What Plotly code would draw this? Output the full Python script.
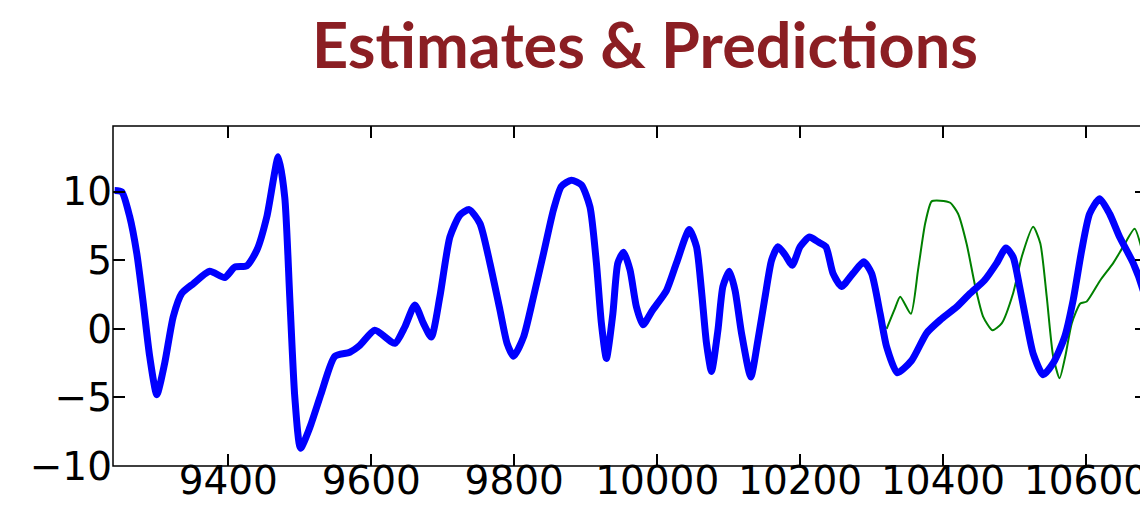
import plotly.graph_objects as go

# Blue series: estimates
est_x = [9241, 9251, 9262, 9272, 9281, 9290, 9300, 9311, 9323, 9335, 9351, 9374,
         9395, 9409, 9426, 9440, 9454, 9470, 9479, 9486, 9493, 9501, 9514, 9530,
         9549, 9570, 9584, 9605, 9633, 9647, 9661, 9673, 9684, 9696, 9710, 9724,
         9737, 9752, 9766, 9780, 9790, 9799, 9813, 9827, 9841, 9855, 9866, 9880,
         9894, 9906, 9915, 9922, 9929, 9938, 9945, 9953, 9962, 9971, 9980, 9994,
         10013, 10027, 10045, 10055, 10062, 10069, 10076, 10085, 10092, 10101,
         10109, 10118, 10131, 10141, 10151, 10160, 10169, 10179, 10189, 10200,
         10213, 10225, 10236, 10246, 10258, 10274, 10289, 10300, 10312, 10321,
         10336, 10356, 10377, 10396, 10419, 10438, 10458, 10475, 10488, 10498,
         10507, 10517, 10526, 10540, 10554, 10570, 10582, 10594, 10605, 10619,
         10633, 10647, 10666, 10680, 10687, 10695]
est_y = [10.1, 10.0, 8.2, 5.5, 1.9, -2.0, -4.8, -2.5, 0.9, 2.6, 3.3, 4.2,
         3.75, 4.5, 4.6, 5.75, 8.2, 12.55, 9.6, 2.3, -4.95, -8.7, -7.2, -4.7,
         -2.0, -1.7, -1.2, -0.1, -1.05, 0.15, 1.75, 0.4, -0.6, 2.35, 6.7, 8.3,
         8.7, 7.7, 4.8, 1.4, -1.05, -2.0, -0.6, 2.35, 5.5, 8.7, 10.4, 10.85,
         10.5, 8.9, 4.8, 0.4, -2.15, 1.1, 4.8, 5.6, 4.3, 1.6, 0.3, 1.4,
         2.8, 4.8, 7.25, 6.0, 2.8, -1.05, -3.1, -0.1, 3.1, 4.2,
         2.8, -0.3, -3.5, -0.8, 2.35, 5.0, 6.0, 5.4, 4.65, 6.0,
         6.7, 6.35, 6.0, 4.05, 3.1, 4.05, 4.9, 4.05, 1.1, -1.3,
         -3.2, -2.3, -0.3, 0.65, 1.6, 2.6, 3.55, 4.8, 5.9, 5.25,
         3.1, 0.4, -1.8, -3.35, -2.5, -0.6, 2.1, 5.75, 8.4, 9.5,
         8.4, 6.7, 4.8, 2.8, 1.0, 0.0]

# Green series: predictions
pred_x = [10321, 10332, 10340, 10355, 10365, 10375, 10384, 10396, 10410, 10421,
          10433, 10445, 10456, 10469, 10482, 10498, 10510, 10526, 10536, 10545,
          10554, 10563, 10571, 10580, 10592, 10601, 10620, 10638, 10652, 10668,
          10679, 10687, 10695]
pred_y = [0.0, 1.4, 2.35, 1.1, 4.3, 7.7, 9.3, 9.35, 9.2, 8.4,
          6.2, 3.1, 0.9, -0.1, 0.4, 2.6, 5.25, 7.45, 6.25, 2.35,
          -2.0, -3.6, -2.0, 0.4, 1.85, 2.0, 3.55, 4.8, 6.0, 7.3,
          5.6, 3.4, 1.5]

x_ticks = [9400, 9600, 9800, 10000, 10200, 10400, 10600]
x_labels = ["9400", "9600", "9800", "10000", "10200", "10400", "10600"]
y_ticks = [-10, -5, 0, 5, 10]
y_labels = ["\u221210", "\u22125", "0", "5", "10"]

title_text = "Estimates & Predictions"

fig = go.Figure()
fig.add_trace(go.Scatter(x=pred_x, y=pred_y, mode="lines",
                         line=dict(color="#008000", width=2, shape="spline", smoothing=0.6),
                         hoverinfo="skip", showlegend=False))
fig.add_trace(go.Scatter(x=est_x, y=est_y, mode="lines",
                         line=dict(color="#0000FF", width=7, shape="spline", smoothing=0.6),
                         hoverinfo="skip", showlegend=False))

# The page body has an 8px default margin; the figure starts 8px in.
W, H = 1140, 504
tickfont = dict(family="DejaVu Sans", size=39, color="#000000")
axis_common = dict(ticks="inside", ticklen=12, tickwidth=1.5, tickcolor="black",
                   showline=False, mirror="ticks",
                   showgrid=False, zeroline=False, tickfont=tickfont, automargin=False,
                   ticklabeloverflow="allow")
fig.update_layout(
    width=W, height=H,
    margin=dict(l=105, r=1, t=118, b=46, autoexpand=False),
    paper_bgcolor="white", plot_bgcolor="white",
    title=dict(text=title_text, x=637 / W, xanchor="center", xref="container",
               y=1 - 38 / H, yref="container", yanchor="middle",
               font=dict(family="Lato, Roboto, Noto Sans",
                         size=63, color="#8B1E23", weight="bold")),
    xaxis=dict(range=[9238.7, 10685.3], tickvals=x_ticks, ticktext=x_labels,
               ticklabelstandoff=-12, **axis_common),
    yaxis=dict(range=[-10, 14.8], tickvals=y_ticks, ticktext=y_labels, **axis_common),
)
# Frame: all four spines
spine = dict(color="black", width=1.5)
fig.add_shape(type="rect", xref="paper", yref="paper", x0=0, x1=1, y0=0, y1=1,
              line=spine, fillcolor="rgba(0,0,0,0)")

fig.write_html("out.html")
